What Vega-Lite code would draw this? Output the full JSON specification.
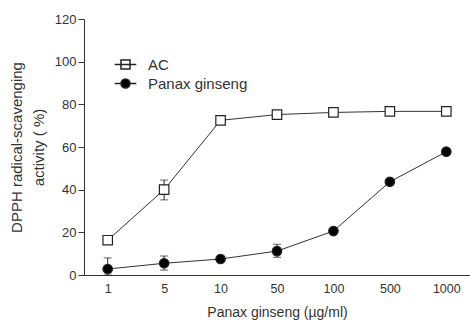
{
  "$schema": "https://vega.github.io/schema/vega-lite/v6.json",
  "autosize": "none",
  "width": 386,
  "height": 256,
  "padding": {"left": 84, "top": 19, "right": 0, "bottom": 45},
  "background": "white",
  "config": {
    "font": "Liberation Sans",
    "view": {"stroke": null},
    "axis": {"grid": false, "domainColor": "#333", "tickColor": "#333", "labelColor": "#333", "titleColor": "#333", "labelFont": "Liberation Sans", "titleFont": "Liberation Sans", "titleFontWeight": "normal"}
  },
  "data": {
    "values": [
      {"conc": "1", "series": "AC", "mean": 16.3, "lo": null, "hi": null},
      {"conc": "5", "series": "AC", "mean": 40.0, "lo": 35.2, "hi": 44.5},
      {"conc": "10", "series": "AC", "mean": 72.5, "lo": 71.5, "hi": 73.5},
      {"conc": "50", "series": "AC", "mean": 75.2, "lo": null, "hi": null},
      {"conc": "100", "series": "AC", "mean": 76.2, "lo": null, "hi": null},
      {"conc": "500", "series": "AC", "mean": 76.7, "lo": null, "hi": null},
      {"conc": "1000", "series": "AC", "mean": 76.7, "lo": null, "hi": null},
      {"conc": "1", "series": "Panax ginseng", "mean": 2.8, "lo": 0, "hi": 8.0},
      {"conc": "5", "series": "Panax ginseng", "mean": 5.5, "lo": 2.3, "hi": 8.9},
      {"conc": "10", "series": "Panax ginseng", "mean": 7.5, "lo": null, "hi": null},
      {"conc": "50", "series": "Panax ginseng", "mean": 11.2, "lo": 8.3, "hi": 14.4},
      {"conc": "100", "series": "Panax ginseng", "mean": 20.6, "lo": null, "hi": null},
      {"conc": "500", "series": "Panax ginseng", "mean": 43.7, "lo": null, "hi": null},
      {"conc": "1000", "series": "Panax ginseng", "mean": 57.8, "lo": null, "hi": null}
    ]
  },
  "encoding": {
    "x": {
      "field": "conc", "type": "ordinal",
      "sort": ["1", "5", "10", "50", "100", "500", "1000"],
      "scale": {"type": "point", "padding": 0.42},
      "axis": {"title": "Panax ginseng (µg/ml)", "labelAngle": 0, "ticks": false, "labelPadding": 7, "labelFontSize": 12.5, "titleFontSize": 14, "titlePadding": 11}
    }
  },
  "resolve": {"scale": {"shape": "independent", "fill": "independent"}},
  "layer": [
    {
      "transform": [{"filter": "datum.lo != null"}],
      "mark": {"type": "errorbar", "ticks": {"size": 8, "color": "#222"}, "rule": {"color": "#222", "strokeWidth": 1}},
      "encoding": {
        "y": {"field": "lo", "type": "quantitative", "title": ["DPPH radical-scavenging", "activity ( %)"]},
        "y2": {"field": "hi"},
        "detail": {"field": "series"}
      }
    },
    {
      "mark": {"type": "line", "color": "#333", "strokeWidth": 1},
      "encoding": {
        "y": {"field": "mean", "type": "quantitative", "title": ["DPPH radical-scavenging", "activity ( %)"]},
        "detail": {"field": "series"}
      }
    },
    {
      "mark": {"type": "point", "size": 90, "strokeWidth": 1.2, "opacity": 1, "stroke": "#222"},
      "encoding": {
        "y": {
          "field": "mean", "type": "quantitative",
          "scale": {"domain": [0, 120]},
          "title": ["DPPH radical-scavenging", "activity ( %)"],
          "axis": {"values": [0, 20, 40, 60, 80, 100, 120], "tickSize": 6, "labelPadding": 2, "labelFontSize": 13, "titleFontSize": 15, "titlePadding": 8, "titleLineHeight": 22}
        },
        "shape": {
          "field": "series", "type": "nominal",
          "scale": {"domain": ["AC", "Panax ginseng"], "range": ["square", "circle"]},
          "legend": null
        },
        "fill": {
          "field": "series", "type": "nominal",
          "scale": {"domain": ["AC", "Panax ginseng"], "range": ["white", "black"]},
          "legend": null
        }
      }
    },
    {
      "transform": [{"filter": "datum.mean < -1000"}],
      "mark": {"type": "point", "size": 81, "strokeWidth": 1.2, "opacity": 1, "stroke": "#222"},
      "encoding": {
        "shape": {
          "field": "series", "type": "nominal",
          "scale": {"domain": ["AC", "Panax ginseng"], "range": ["M-2.4,0H-1M1,0H2.4M-1,0H1M-1,-1H1V1H-1Z", "M-2.4,0H-1M1,0H2.4M1,0A1,1,0,1,1,-1,0A1,1,0,1,1,1,0Z"]},
          "legend": {
            "title": null, "orient": "none", "legendX": 34, "legendY": 38,
            "labelFontSize": 15, "labelColor": "#333", "rowPadding": 3, "symbolSize": 81, "labelOffset": 15, "padding": 0,
            "encode": {"symbols": {
              "stroke": {"value": "#222"},
              "strokeWidth": {"value": 1.2},
              "opacity": {"value": 1}
            }}
          }
        },
        "fill": {
          "field": "series", "type": "nominal",
          "scale": {"domain": ["AC", "Panax ginseng"], "range": ["white", "black"]},
          "legend": {
            "title": null, "orient": "none", "legendX": 34, "legendY": 38,
            "labelFontSize": 15, "labelColor": "#333", "rowPadding": 3, "symbolSize": 81, "labelOffset": 15, "padding": 0,
            "encode": {"symbols": {
              "stroke": {"value": "#222"},
              "strokeWidth": {"value": 1.2},
              "opacity": {"value": 1}
            }}
          }
        }
      }
    }
  ]
}
